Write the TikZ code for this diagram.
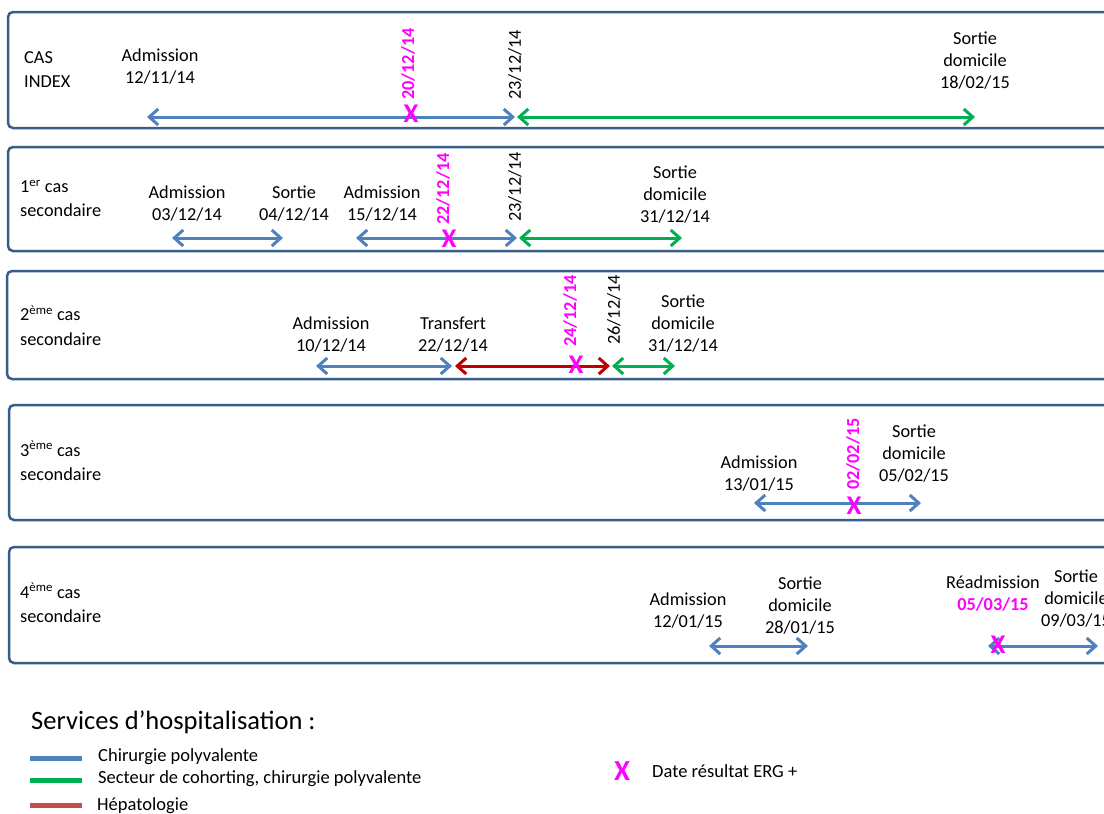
\documentclass[tikz,border=0pt]{standalone}
\usepackage{fontspec}
\setmainfont{Carlito}
\usetikzlibrary{arrows.meta}
\definecolor{boxc}{RGB}{56,93,138}
\definecolor{bluec}{RGB}{79,129,189}
\definecolor{greenc}{RGB}{0,176,80}
\definecolor{redc}{RGB}{192,0,0}
\definecolor{redl}{RGB}{192,80,77}
\definecolor{pinkc}{RGB}{255,0,255}
\begin{document}
\begin{tikzpicture}[x=1pt,y=-1pt,
  rowbox/.style={draw=boxc, line width=2.5pt, rounded corners=5pt},
  lbl/.style={font=\fontsize{18.3}{22}\selectfont, align=center, inner sep=0pt},
  case/.style={font=\fontsize{18.3}{24.5}\selectfont, align=left, anchor=west, inner sep=0pt},
  rdate/.style={font=\fontsize{18.3}{22}\selectfont, rotate=90, anchor=west, inner sep=0pt},
  pdate/.style={rdate, text=pinkc, font=\fontsize{18.3}{22}\selectfont\bfseries},
  xmark/.style={text=pinkc, font=\fontsize{27}{27}\selectfont\bfseries, inner sep=0pt},
  tip/.tip={Straight Barb[length=9pt,width=16pt,line width=3pt]},
  seg/.style={line width=3pt, tip-tip},
  legline/.style={line width=5pt},
  legtxt/.style={font=\fontsize{18.5}{22}\selectfont, anchor=west, inner sep=0pt}
]
\useasboundingbox (0,0) rectangle (1104,814);
\clip (0,0) rectangle (1104,814);
\fill[white] (0,0) rectangle (1104,814);

% boxes
\draw[rowbox] (8,12) rectangle (1130,128);
\draw[rowbox] (8,147) rectangle (1130,251);
\draw[rowbox] (7,271) rectangle (1130,379);
\draw[rowbox] (9,405) rectangle (1130,520);
\draw[rowbox] (9,547) rectangle (1130,663);

% ---------- Row 1
\node[case] (c1) at (24,69.5) {CAS\\INDEX};
\node[lbl] (r1adm) at (160,66.5) {Admission\\12/11/14};
\node[lbl] (r1out) at (975,61) {Sortie\\domicile\\18/02/15};
\node[pdate] (r1p) at (408,100) {20/12/14};
\node[rdate] (r1d) at (515,100) {23/12/14};
\coordinate (r1a) at (147,117);
\coordinate (r1b) at (515,117);
\coordinate (r1c) at (517,117);
\coordinate (r1e) at (975,117);
\draw[seg, bluec] (r1a) -- (r1b);
\draw[seg, greenc] (r1c) -- (r1e);
\node[xmark] (r1x) at (411,114) {X};

% ---------- Row 2
\node[case] (c2) at (20,198.5) {1\textsuperscript{er} cas\\secondaire};
\node[lbl] (r2adm1) at (187,204) {Admission\\03/12/14};
\node[lbl] (r2out1) at (294,204) {Sortie\\04/12/14};
\node[lbl] (r2adm2) at (382,204) {Admission\\15/12/14};
\node[lbl] (r2out2) at (675,195) {Sortie\\domicile\\31/12/14};
\node[pdate] (r2p) at (443,225) {22/12/14};
\node[rdate] (r2d) at (515,222) {23/12/14};
\coordinate (r2a) at (172,238);
\coordinate (r2b) at (283,238);
\coordinate (r2c) at (356,238);
\coordinate (r2e) at (517,238);
\coordinate (r2f) at (519,238);
\coordinate (r2g) at (682,238);
\draw[seg, bluec] (r2a) -- (r2b);
\draw[seg, bluec] (r2c) -- (r2e);
\draw[seg, greenc] (r2f) -- (r2g);
\node[xmark] (r2x) at (449,239) {X};

% ---------- Row 3
\node[case] (c3) at (20,325.5) {2\textsuperscript{ème} cas\\secondaire};
\node[lbl] (r3adm) at (331,335) {Admission\\10/12/14};
\node[lbl] (r3tr) at (453,335) {Transfert\\22/12/14};
\node[lbl] (r3out) at (683,323.5) {Sortie\\domicile\\31/12/14};
\node[pdate] (r3p) at (570,347) {24/12/14};
\node[rdate] (r3d) at (614,345) {26/12/14};
\coordinate (r3a) at (316,366);
\coordinate (r3b) at (452,366);
\coordinate (r3c) at (455,366);
\coordinate (r3e) at (610,366);
\coordinate (r3f) at (612,366);
\coordinate (r3g) at (675,366);
\draw[seg, bluec] (r3a) -- (r3b);
\draw[seg, redc] (r3c) -- (r3e);
\draw[seg, greenc] (r3f) -- (r3g);
\node[xmark] (r3x) at (576,365) {X};

% ---------- Row 4
\node[case] (c4) at (20,461) {3\textsuperscript{ème} cas\\secondaire};
\node[lbl] (r4adm) at (759,474) {Admission\\13/01/15};
\node[lbl] (r4out) at (914,453.5) {Sortie\\domicile\\05/02/15};
\node[pdate] (r4p) at (853,490) {02/02/15};
\coordinate (r4a) at (754,503);
\coordinate (r4b) at (921,503);
\draw[seg, bluec] (r4a) -- (r4b);
\node[xmark] (r4x) at (854,506) {X};

% ---------- Row 5
\node[case] (c5) at (20,603) {4\textsuperscript{ème} cas\\secondaire};
\node[lbl] (r5adm) at (688,611) {Admission\\12/01/15};
\node[lbl] (r5out1) at (800,605.5) {Sortie\\domicile\\28/01/15};
\node[lbl] (r5re) at (993,593.5) {Réadmission\\{\color{pinkc}\bfseries 05/03/15}};
\node[lbl] (r5out2) at (1076,599) {Sortie\\domicile\\09/03/15};
\coordinate (r5a) at (709,646);
\coordinate (r5b) at (808,646);
\coordinate (r5c) at (988,646);
\coordinate (r5e) at (1098,646);
\draw[seg, bluec] (r5a) -- (r5b);
\draw[seg, bluec] (r5c) -- (r5e);
\node[xmark] (r5x) at (998,645) {X};

% ---------- Legend
\node[font=\fontsize{26.5}{30}\selectfont, anchor=west, inner sep=0pt] (legt) at (31,722) {Services d’hospitalisation :};
\coordinate (lb1) at (30,758); \coordinate (lb2) at (82,758);
\coordinate (lg1) at (30,780); \coordinate (lg2) at (82,780);
\coordinate (lr1) at (30,805); \coordinate (lr2) at (82,805);
\draw[legline, bluec] (lb1) -- (lb2);
\draw[legline, greenc] (lg1) -- (lg2);
\draw[legline, redl] (lr1) -- (lr2);
\node[legtxt] (legb) at (98,757) {Chirurgie polyvalente};
\node[legtxt] (legg) at (98,779) {Secteur de cohorting, chirurgie polyvalente};
\node[legtxt] (legr) at (97,806) {Hépatologie};
\node[xmark, font=\fontsize{29}{29}\selectfont\bfseries] (legx) at (622,771) {X};
\node[legtxt] (legxt) at (652,771) {Date résultat ERG +};
\end{tikzpicture}
\end{document}
